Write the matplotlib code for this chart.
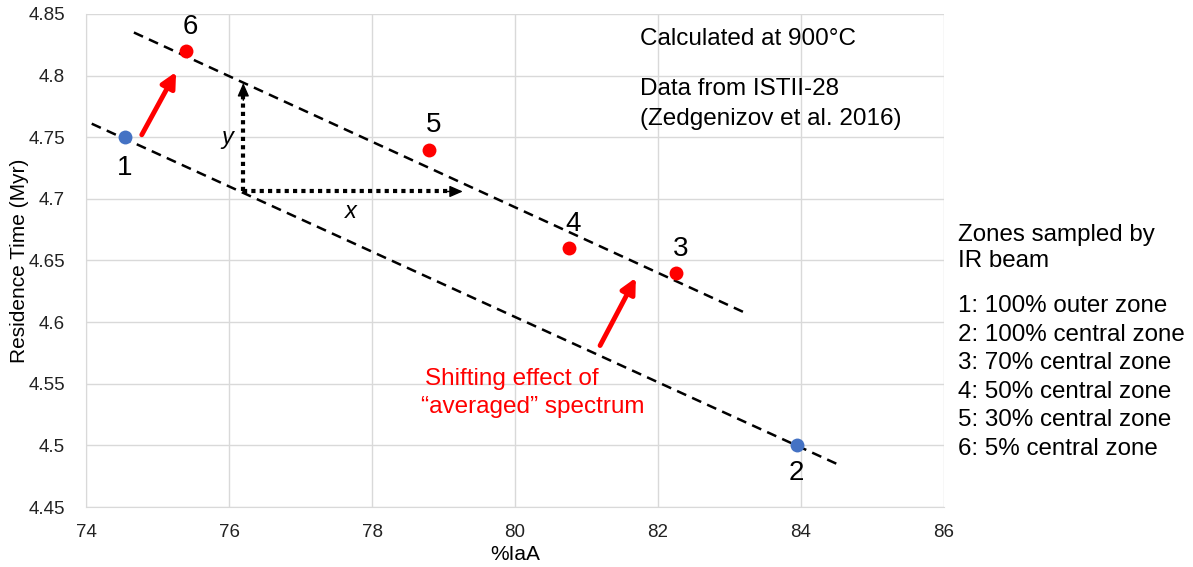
import matplotlib
matplotlib.use("Agg")
import matplotlib.pyplot as plt

plt.rcParams['font.family'] = ['Liberation Sans', 'DejaVu Sans']

# Data
end_x = [74.54, 83.94]          # points 1 and 2 (blue)
end_y = [4.75, 4.50]
end_labels = ["1", "2"]
mix_x = [82.25, 80.75, 78.80, 75.40]   # points 3..6 (red)
mix_y = [4.64, 4.66, 4.74, 4.82]
mix_labels = ["3", "4", "5", "6"]

lower_line_x = [74.08, 84.50]
lower_line_y = [4.761, 4.485]
upper_line_x = [74.67, 83.24]
upper_line_y = [4.835, 4.607]

x_ticks = [74, 76, 78, 80, 82, 84, 86]
y_ticks = [4.45, 4.5, 4.55, 4.6, 4.65, 4.7, 4.75, 4.8, 4.85]
y_tick_labels = ["4.45", "4.5", "4.55", "4.6", "4.65", "4.7", "4.75", "4.8", "4.85"]

zone_lines = ["1: 100% outer zone", "2: 100% central zone", "3: 70% central zone",
              "4: 50% central zone", "5: 30% central zone", "6: 5% central zone"]

W, H = 1193, 567
fig = plt.figure(figsize=(W / 100, H / 100), dpi=100)
ax = fig.add_axes([86 / W, 1 - 507 / H, (944 - 86) / W, (507 - 14) / H])

ax.set_xlim(74, 86)
ax.set_ylim(4.45, 4.85)
ax.set_xticks(x_ticks)
ax.set_yticks(y_ticks)
ax.set_yticklabels(y_tick_labels)
ax.grid(True, color='#d9d9d9', linewidth=1)
ax.set_axisbelow(True)
for s in ['top', 'right']:
    ax.spines[s].set_visible(False)
for s in ['left', 'bottom']:
    ax.spines[s].set_color('#d9d9d9')
ax.tick_params(length=0, labelsize=13.5, colors='#222222')
ax.tick_params(axis='x', pad=12)
ax.tick_params(axis='y', pad=15)
ax.set_xlabel("%IaA", fontsize=15)
ax.set_ylabel("Residence Time (Myr)", fontsize=15)
ax.xaxis.set_label_coords(0.5, -(555 - 507) / 493, transform=ax.transAxes)
ax.yaxis.set_label_coords(-(86 - 20) / 858, 0.5, transform=ax.transAxes)
ax.xaxis.label.set_va('center')
ax.yaxis.label.set_va('center')

# dashed lines
ax.plot(lower_line_x, lower_line_y, color='black', linestyle=(0, (4, 2.6)), linewidth=1.8, zorder=2)
ax.plot(upper_line_x, upper_line_y, color='black', linestyle=(0, (4, 2.6)), linewidth=1.8, zorder=2)

# points
ax.plot(end_x, end_y, 'o', color='#4472C4', markersize=10, zorder=3, markeredgewidth=0)
ax.plot(mix_x, mix_y, 'o', color='#FF0000', markersize=10, zorder=3, markeredgewidth=0)

# point labels
num_fs = 20
ax.text(end_x[0], end_y[0] - 0.014, end_labels[0], ha='center', va='top', fontsize=num_fs)
ax.text(end_x[1], end_y[1] - 0.012, end_labels[1], ha='center', va='top', fontsize=num_fs)
for xv, yv, lab in zip(mix_x, mix_y, mix_labels):
    ax.text(xv + 0.06, yv + 0.009, lab, ha='center', va='bottom', fontsize=num_fs)

# red arrows
arrow_kw = dict(arrowstyle='-|>,head_length=0.9,head_width=0.45', color='#FF0000', lw=3.5,
                shrinkA=0, shrinkB=0)
ax.annotate('', xy=(75.26, 4.803), xytext=(74.78, 4.752), arrowprops=arrow_kw)
ax.annotate('', xy=(81.69, 4.636), xytext=(81.19, 4.581), arrowprops=arrow_kw)

# dotted black arrows (dotted shaft + solid head)
ax.plot([76.2, 76.2], [4.706, 4.784], color='black', lw=3, linestyle=(0, (1, 1)), zorder=2)
ax.plot([76.2, 79.1], [4.706, 4.706], color='black', lw=3, linestyle=(0, (1, 1)), zorder=2)
head_kw = dict(arrowstyle='-|>,head_length=0.8,head_width=0.35', color='black', lw=1,
               shrinkA=0, shrinkB=0)
ax.annotate('', xy=(76.2, 4.794), xytext=(76.2, 4.780), arrowprops=head_kw)
ax.annotate('', xy=(79.27, 4.706), xytext=(79.05, 4.706), arrowprops=head_kw)
ax.text(75.98, 4.75, "y", fontsize=17, style='italic', ha='center', va='center')
ax.text(77.7, 4.69, "x", fontsize=17, style='italic', ha='center', va='center')

# annotations in plot
txt_fs = 17.5
ax.text(81.75, 4.8300, "Calculated at 900°C", fontsize=txt_fs, va='center')
ax.text(81.75, 4.7890, "Data from ISTII-28", fontsize=txt_fs, va='center')
ax.text(81.75, 4.7645, "(Zedgenizov et al. 2016)", fontsize=txt_fs, va='center')
ax.text(78.74, 4.5540, "Shifting effect of", fontsize=txt_fs, va='center', color='#FF0000')
ax.text(78.68, 4.5310, "\u201caveraged\u201d spectrum", fontsize=txt_fs, va='center', color='#FF0000')

# right-side text
fs_r = 17.4
fig.text(958 / W, 1 - 235 / H, "Zones sampled by", fontsize=fs_r, va='center')
fig.text(958 / W, 1 - 261 / H, "IR beam", fontsize=fs_r, va='center')
for i, line in enumerate(zone_lines):
    fig.text(958 / W, 1 - (306 + i * 28.6) / H, line, fontsize=fs_r, va='center')

fig.savefig("out.png", dpi=100)
